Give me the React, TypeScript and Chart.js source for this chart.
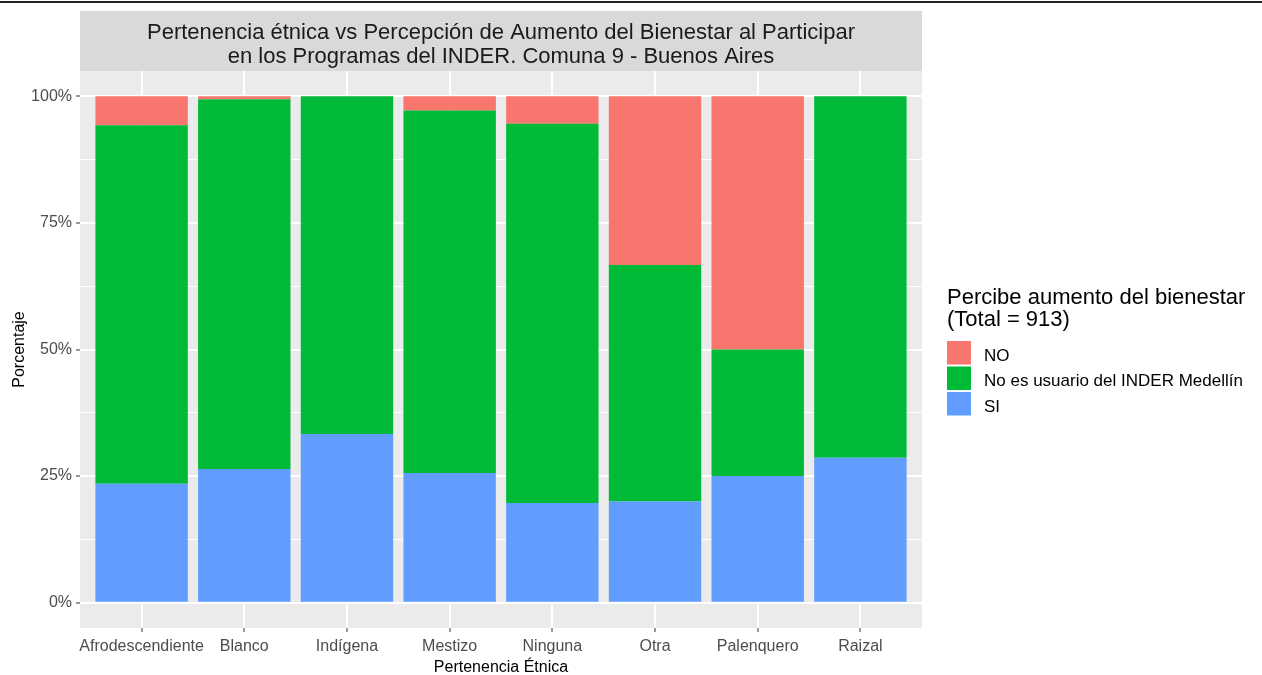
import React, { useEffect, useRef } from "react";
import { Chart, registerables } from "chart.js";

Chart.register(...registerables);

const categories = ["Afrodescendiente", "Blanco", "Indígena", "Mestizo", "Ninguna", "Otra", "Palenquero", "Raizal"];
const siValues = [23.5, 26.4, 33.3, 25.6, 19.7, 20.0, 25.0, 28.6];
const noUsuarioValues = [70.8, 73.0, 66.7, 71.6, 74.9, 46.7, 25.0, 71.4];
const noValues = [5.7, 0.6, 0.0, 2.8, 5.4, 33.3, 50.0, 0.0];
const seriesNames = ["NO", "No es usuario del INDER Medellín", "SI"];
const seriesColors = ["#F8766D", "#00BA38", "#619CFF"];
const yTickValues = [0, 12.5, 25, 37.5, 50, 62.5, 75, 87.5, 100];
const titleLines = [
  "Pertenencia étnica vs Percepción de Aumento del Bienestar al Participar",
  "en los Programas del INDER. Comuna 9 - Buenos Aires",
];
const legendTitleLines = ["Percibe aumento del bienestar", "(Total = 913)"];
const xTitle = "Pertenencia Étnica";
const yTitle = "Porcentaje";

const FONT = '"Liberation Sans", Arial, sans-serif';

const decorPlugin = {
  id: "decor",
  beforeDraw(chart: any) {
    const { ctx, chartArea: a } = chart;
    ctx.save();
    ctx.fillStyle = "#EBEBEB";
    ctx.fillRect(a.left, a.top, a.right - a.left, a.bottom - a.top);
    ctx.restore();
  },
  afterDraw(chart: any) {
    const { ctx, chartArea: a } = chart;
    ctx.save();
    // top rule
    ctx.fillStyle = "#222222";
    ctx.fillRect(0, 1, chart.width, 2);
    // title strip
    ctx.fillStyle = "#D9D9D9";
    ctx.fillRect(a.left, 11, a.right - a.left, a.top - 11);
    ctx.fillStyle = "#1A1A1A";
    ctx.font = `22px ${FONT}`;
    ctx.textAlign = "center";
    ctx.textBaseline = "alphabetic";
    const cx = (a.left + a.right) / 2;
    ctx.fillText(titleLines[0], cx, 39);
    ctx.fillText(titleLines[1], cx, 63);
    // legend
    const lx = 947;
    ctx.textAlign = "left";
    ctx.fillStyle = "#000000";
    ctx.font = `22px ${FONT}`;
    ctx.fillText(legendTitleLines[0], lx, 304);
    ctx.fillText(legendTitleLines[1], lx, 326);
    const keyTops = [341, 366.5, 392];
    ctx.font = `17px ${FONT}`;
    seriesNames.forEach((name, i) => {
      ctx.fillStyle = seriesColors[i];
      ctx.fillRect(lx, keyTops[i], 24, 23.5);
      ctx.fillStyle = "#000000";
      ctx.fillText(name, 984, keyTops[i] + 11.75 + 8);
    });
    ctx.restore();
  },
};

export default function App() {
  const canvasRef = useRef<HTMLCanvasElement | null>(null);

  useEffect(() => {
    document.body.style.margin = "0";
    const canvas = canvasRef.current;
    if (!canvas) return;
    const toPts = (arr: number[]) => arr.map((v, i) => ({ x: i, y: v }));
    const chart = new Chart(canvas, {
      type: "bar",
      data: {
        datasets: [
          { label: seriesNames[2], data: toPts(siValues), backgroundColor: seriesColors[2] },
          { label: seriesNames[1], data: toPts(noUsuarioValues), backgroundColor: seriesColors[1] },
          { label: seriesNames[0], data: toPts(noValues), backgroundColor: seriesColors[0] },
        ] as any,
      },
      options: {
        responsive: false,
        animation: false,
        events: [],
        devicePixelRatio: 1,
        datasets: { bar: { barPercentage: 0.9, categoryPercentage: 1.0, borderWidth: 0 } } as any,
        layout: { padding: { left: 0, top: 71, right: 340, bottom: 0 } },
        plugins: {
          legend: { display: false },
          title: { display: false },
          tooltip: { enabled: false },
        },
        scales: {
          x: {
            type: "linear",
            stacked: true,
            offset: false,
            min: -0.6,
            max: 7.6,
            afterBuildTicks: (scale: any) => {
              scale.ticks = categories.map((_, i) => ({ value: i }));
            },
            afterFit: (scale: any) => {
              scale.height = 47;
            },
            ticks: {
              autoSkip: false,
              maxRotation: 0,
              padding: 5,
              color: "#4D4D4D",
              font: { family: FONT, size: 16 },
              callback: (v: any) => categories[v as number] ?? "",
            },
            grid: {
              offset: false,
              color: "#FFFFFF",
              lineWidth: 2,
              tickLength: 4,
              tickColor: "#333333",
              tickWidth: 1,
            } as any,
            border: { display: false },
            title: {
              display: true,
              text: xTitle,
              color: "#000000",
              font: { family: FONT, size: 16 },
              padding: { top: 0, bottom: -2 },
            },
          },
          y: {
            stacked: true,
            min: -5,
            max: 105,
            afterBuildTicks: (scale: any) => {
              scale.ticks = yTickValues.map((v) => ({ value: v }));
            },
            afterFit: (scale: any) => {
              scale.width = 80;
            },
            ticks: {
              padding: 4,
              color: "#4D4D4D",
              font: { family: FONT, size: 16 },
              callback: (v: any) => ((v as number) % 25 === 0 ? `${v}%` : ""),
            },
            grid: {
              color: "#FFFFFF",
              lineWidth: (c: any) => (c.tick && c.tick.value % 25 === 0 ? 2 : 1),
              tickLength: 4,
              tickColor: (c: any) => (c.tick && c.tick.value % 25 === 0 ? "#333333" : "rgba(0,0,0,0)"),
              tickWidth: 1,
            } as any,
            border: { display: false },
            title: {
              display: true,
              text: yTitle,
              color: "#000000",
              font: { family: FONT, size: 16 },
              padding: { top: 10, bottom: 0 },
            },
          },
        },
      },
      plugins: [decorPlugin],
    } as any);
    return () => chart.destroy();
  }, []);

  return (
    <div style={{ position: "relative", width: 1262, height: 675, background: "#FFFFFF" }}>
      <canvas ref={canvasRef} width={1262} height={675} style={{ display: "block", width: 1262, height: 675 }} />
    </div>
  );
}
